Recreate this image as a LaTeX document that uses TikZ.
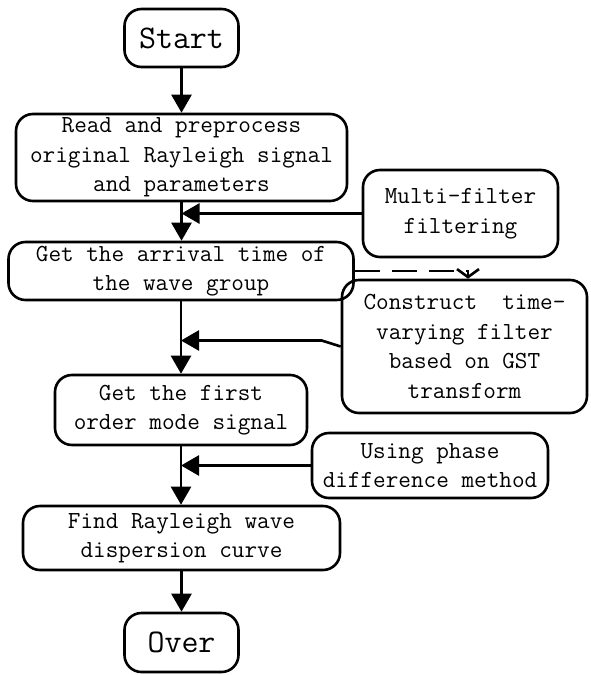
\documentclass[tikz,border=0pt]{standalone}
\usepackage{fontspec}
\usetikzlibrary{arrows.meta}
\begin{document}
\begin{tikzpicture}[x=1pt,y=-1pt,
  box/.style={draw, line width=2.6pt, rounded corners=17pt, inner sep=0pt,
    align=center, font=\ttfamily\addfontfeatures{FakeStretch=0.95}\fontsize{24.5}{29.5}\selectfont},
  term/.style={box, font=\ttfamily\addfontfeatures{FakeStretch=0.93}\fontsize{33}{40}\selectfont},
  conn/.style={line width=2.6pt, -{Triangle[length=18pt,width=20pt]}},
  dashconn/.style={line width=2.6pt, dash pattern=on 25pt off 12pt,
    -{Straight Barb[length=8pt,width=22pt]}}]
\useasboundingbox (0,0) rectangle (590,675);
\node[term, minimum width=114pt, minimum height=58pt] (start) at (181.5,38) {Start};
\node[box, minimum width=331pt, minimum height=87pt] (read) at (181.5,157.5)
  {Read and preprocess\\original Rayleigh signal\\and parameters};
\node[box, minimum width=195pt, minimum height=87pt] (multi) at (460.5,213.5)
  {Multi-filter\\filtering};
\node[box, minimum width=345pt, minimum height=58pt] (arr) at (181,271)
  {Get the arrival time of\\the wave group};
\node[box, minimum width=245pt, minimum height=133pt] (cons) at (464.5,346.5)
  {Construct~~time-\\varying filter\\based on GST\\transform};
\node[box, minimum width=252pt, minimum height=70pt] (first) at (181,410)
  {Get the first\\order mode signal};
\node[box, minimum width=236pt, minimum height=65pt] (using) at (430,465.5)
  {Using phase\\difference method};
\node[box, minimum width=317pt, minimum height=64pt] (find) at (181.5,538)
  {Find Rayleigh wave\\dispersion curve};
\node[term, minimum width=114pt, minimum height=59pt] (over) at (181.5,642.5) {Over};

\draw[conn] (start.south) -- (read.north);
\draw[conn] (read.south) -- (read.south |- arr.north);
\draw[conn] (arr.south) -- (arr.south |- first.north);
\draw[conn] (first.south) -- (first.south |- find.north);
\draw[conn] (find.south) -- (find.south |- over.north);

\draw[conn] (multi.west) -- (read.south |- multi.west);
\draw[conn] (cons.west) -- ++(-19,-6) -- (arr.south |- 0,340.5);
\draw[conn] (using.west) -- (first.south |- using.west);
\draw[dashconn] (arr.east) -| ([xshift=3.5pt]cons.north);
\end{tikzpicture}
\end{document}
